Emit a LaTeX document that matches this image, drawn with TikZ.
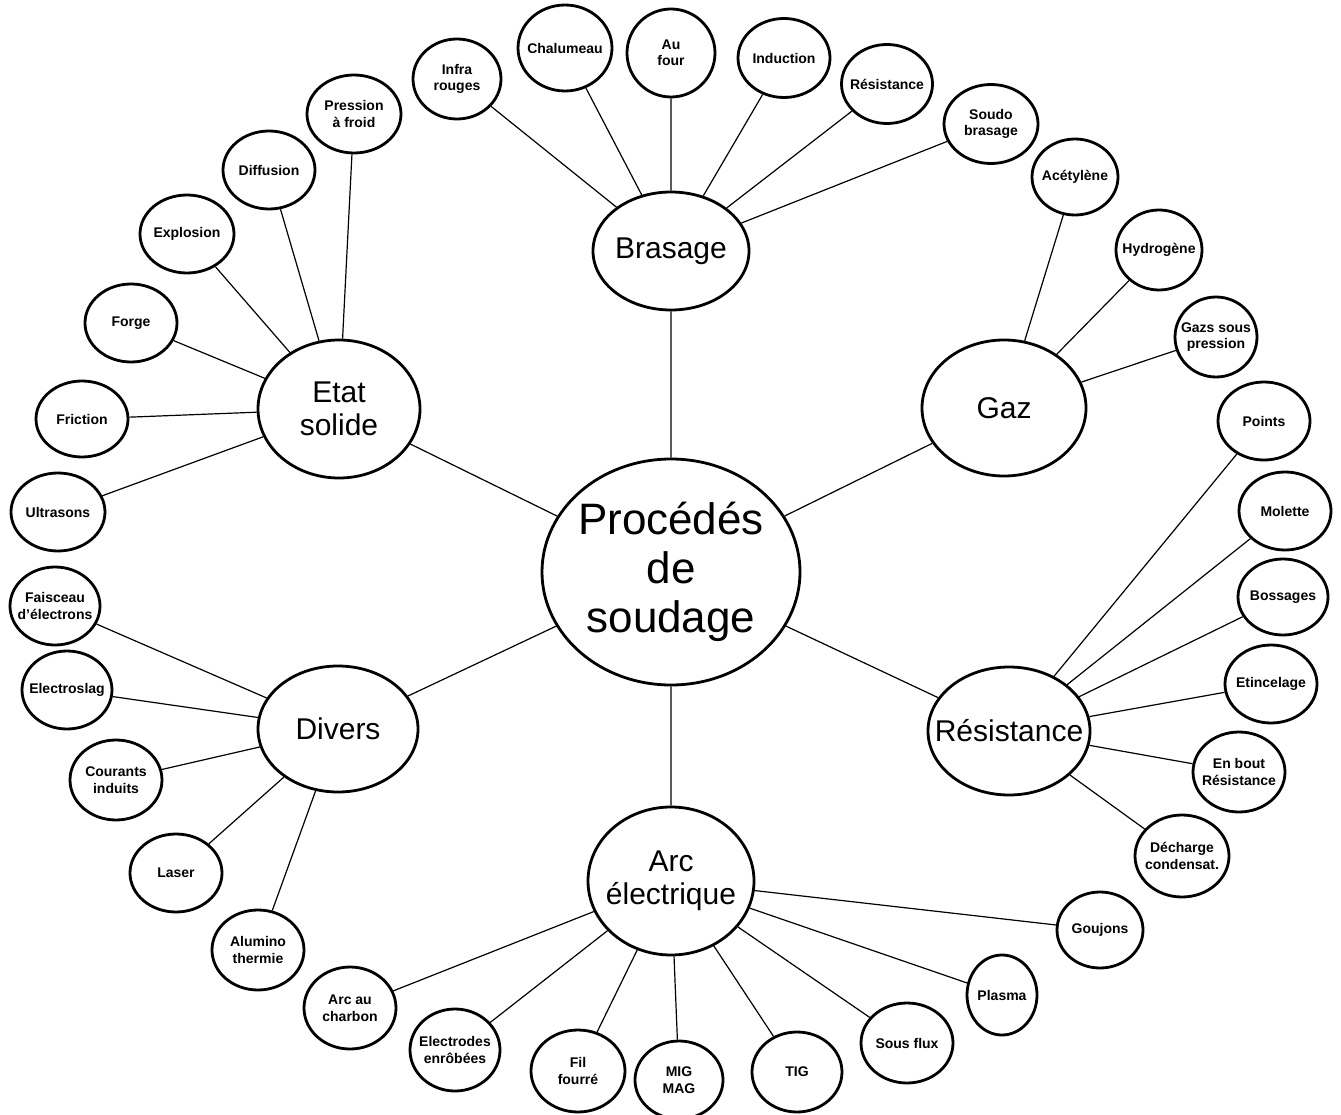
\documentclass[tikz,border=0pt]{standalone}
\usepackage{fontspec}
\setmainfont{Liberation Sans}
\usetikzlibrary{shapes.geometric}

\begin{document}
\begin{tikzpicture}[
  x=1pt,y=-1pt,
  bub/.style={draw,ellipse,line width=2.8pt,inner xsep=-120pt,inner ysep=-60pt,align=center},
  hub/.style={bub,minimum width=258pt,minimum height=226pt,font=\fontsize{44}{49}\selectfont},
  branch/.style={bub,minimum width=162pt,minimum height=130pt,font=\fontsize{30}{33}\selectfont},
  leaf/.style={bub,minimum width=91pt,minimum height=79pt,font=\bfseries\fontsize{14}{16.5}\selectfont},
  link/.style={line width=1.2pt}
]
\useasboundingbox (0,0) rectangle (1341,1115);

\node[hub] (proc) at (671,572) {Procédés\\de\\soudage};

\node[branch,minimum width=156pt,minimum height=118pt] (brasage) at (671,251) {Brasage};
\node[branch,minimum height=138pt] (etat) at (339,409) {Etat\\solide};
\node[branch,minimum width=164pt,minimum height=136pt] (gaz) at (1004,408) {Gaz};
\node[branch,minimum width=160pt,minimum height=126pt] (divers) at (338,729) {Divers};
\node[branch,minimum height=128pt] (resist) at (1009,731) {Résistance};
\node[branch,minimum width=166pt,minimum height=148pt] (arc) at (671,881) {Arc\\électrique};

% brasage
\node[leaf,minimum width=88pt,minimum height=80pt] (infra) at (457,79) {Infra\\rouges};
\node[leaf,minimum width=94pt,minimum height=86pt] (chalu) at (565,48) {Chalumeau};
\node[leaf,minimum width=88pt,minimum height=88pt] (four) at (671,53) {Au\\four};
\node[leaf,minimum width=92pt] (induc) at (784,58) {Induction};
\node[leaf] (resbr) at (887,84) {Résistance};
\node[leaf,minimum width=94pt] (soudo) at (991,124) {Soudo\\brasage};

% gaz
\node[leaf,minimum width=86pt,minimum height=76pt] (acet) at (1075,177) {Acétylène};
\node[leaf,minimum width=86pt,minimum height=80pt] (hydro) at (1159,250) {Hydrogène};
\node[leaf,minimum width=82pt,minimum height=80pt] (gazsp) at (1216,337) {Gazs sous\\pression};

% resistance
\node[leaf,minimum width=92pt,minimum height=78pt] (points) at (1264,421) {Points};
\node[leaf,minimum width=92pt,minimum height=78pt] (molette) at (1285,511) {Molette};
\node[leaf,minimum width=90pt,minimum height=76pt] (bossag) at (1283,597) {Bossages};
\node[leaf,minimum width=92pt,minimum height=78pt] (etinc) at (1271,684) {Etincelage};
\node[leaf,minimum width=92pt,minimum height=80pt] (enbout) at (1239,772) {En bout\\Résistance};
\node[leaf,minimum width=94pt,minimum height=82pt] (decharge) at (1182,856) {Décharge\\condensat.};

% arc electrique
\node[leaf,minimum width=86pt,minimum height=76pt] (goujons) at (1100,930) {Goujons};
\node[leaf,minimum width=70pt,minimum height=80pt] (plasma) at (1002,995) {Plasma};
\node[leaf,minimum width=92pt,minimum height=80pt] (sousflux) at (907,1043) {Sous flux};
\node[leaf,minimum width=90pt,minimum height=80pt] (tig) at (797,1072) {TIG};
\node[leaf,minimum width=88pt,minimum height=78pt] (migmag) at (679,1080) {MIG\\MAG};
\node[leaf,minimum width=94pt,minimum height=82pt] (filf) at (578,1071) {Fil\\fourré};
\node[leaf,minimum width=90pt,minimum height=82pt] (electr) at (455,1050) {Electrodes\\enrôbées};
\node[leaf,minimum width=92pt,minimum height=82pt] (arcch) at (350,1008) {Arc au\\charbon};

% divers
\node[leaf,minimum width=92pt,minimum height=80pt] (alumino) at (258,950) {Alumino\\thermie};
\node[leaf,minimum width=92pt,minimum height=78pt] (laser) at (176,873) {Laser};
\node[leaf,minimum width=92pt,minimum height=80pt] (courants) at (116,780) {Courants\\induits};
\node[leaf,minimum width=90pt,minimum height=78pt] (electrosl) at (67,690) {Electroslag};
\node[leaf,minimum width=90pt,minimum height=78pt] (faisceau) at (55,606) {Faisceau\\d'électrons};

% etat solide
\node[leaf,minimum width=94pt,minimum height=78pt] (ultra) at (58,512) {Ultrasons};
\node[leaf,minimum width=92pt,minimum height=76pt] (friction) at (82,419) {Friction};
\node[leaf,minimum width=92pt,minimum height=78pt] (forge) at (131,323) {Forge};
\node[leaf,minimum width=94pt,minimum height=78pt] (explo) at (187,234) {Explosion};
\node[leaf,minimum width=92pt,minimum height=78pt] (diffu) at (269,170) {Diffusion};
\node[leaf,minimum width=94pt,minimum height=78pt] (pression) at (354,114) {Pression\\à froid};

\draw[link] (proc) -- (brasage) (proc) -- (etat) (proc) -- (gaz)
            (proc) -- (divers) (proc) -- (resist) (proc) -- (arc);

\draw[link] (brasage) -- (infra) (brasage) -- (chalu) (brasage) -- (four)
            (brasage) -- (induc) (brasage) -- (resbr) (brasage) -- (soudo);
\draw[link] (gaz) -- (acet) (gaz) -- (hydro) (gaz) -- (gazsp);
\draw[link] (resist) -- (points) (resist) -- (molette) (resist) -- (bossag)
            (resist) -- (etinc) (resist) -- (enbout) (resist) -- (decharge);
\draw[link] (arc) -- (goujons) (arc) -- (plasma) (arc) -- (sousflux) (arc) -- (tig)
            (arc) -- (migmag) (arc) -- (filf) (arc) -- (electr) (arc) -- (arcch);
\draw[link] (divers) -- (alumino) (divers) -- (laser) (divers) -- (courants)
            (divers) -- (electrosl) (divers) -- (faisceau);
\draw[link] (etat) -- (ultra) (etat) -- (friction) (etat) -- (forge)
            (etat) -- (explo) (etat) -- (diffu) (etat) -- (pression);
\end{tikzpicture}
\end{document}
